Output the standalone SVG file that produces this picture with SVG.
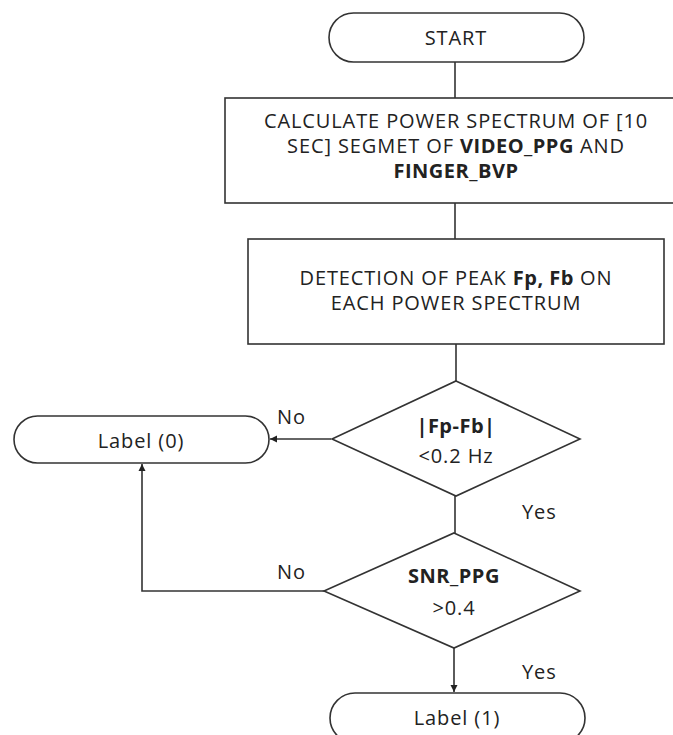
<svg xmlns="http://www.w3.org/2000/svg" width="673" height="735" viewBox="0 0 673 735">
<style>
.s{fill:#fff;stroke:#333;stroke-width:1.6}
.c{fill:none;stroke:#333;stroke-width:1.6}
text{font-family:"Open Sans","Noto Sans",sans-serif;font-size:20px;letter-spacing:0.9px;fill:#222;text-anchor:middle}
.b{font-weight:bold;letter-spacing:0.5px}
.l{text-anchor:start}
</style>
<defs>
<marker id="ah" markerWidth="8" markerHeight="8" refX="7" refY="4" orient="auto" markerUnits="userSpaceOnUse">
<path d="M0,0.5 L7,4 L0,7.5 Z" fill="#222"/>
</marker>
</defs>
<rect width="673" height="735" fill="#fff"/>
<g id="connectors">
<line class="c" x1="455" y1="62" x2="455" y2="98"/>
<line class="c" x1="455" y1="203" x2="455" y2="239"/>
<line class="c" x1="456" y1="344" x2="456" y2="381"/>
<line class="c" x1="455" y1="496" x2="455" y2="533"/>
<line class="c" x1="331" y1="439" x2="270" y2="439" marker-end="url(#ah)"/>
<polyline class="c" points="324,591 142,591 142,464" marker-end="url(#ah)"/>
<line class="c" x1="454" y1="648" x2="454" y2="692" marker-end="url(#ah)"/>
<text class="l" x="277" y="424">No</text>
<text class="l" x="277" y="579">No</text>
<text class="l" x="522" y="519">Yes</text>
<text class="l" x="522" y="679">Yes</text>
</g>
<g id="start">
<rect class="s" x="329" y="13" width="255" height="49" rx="24.5"/>
<text x="456" y="45">START</text>
</g>
<g id="calc">
<rect class="s" x="225" y="98" width="461" height="105"/>
<text x="456" y="128">CALCULATE POWER SPECTRUM OF [10</text>
<text x="456" y="153">SEC] SEGMET OF <tspan class="b">VIDEO_PPG</tspan> AND</text>
<text x="456" y="178" class="b">FINGER_BVP</text>
</g>
<g id="detect">
<rect class="s" x="248" y="239" width="416" height="105"/>
<text x="456" y="285">DETECTION OF PEAK <tspan class="b">Fp, Fb</tspan> ON</text>
<text x="456" y="310">EACH POWER SPECTRUM</text>
</g>
<g id="dec1">
<polygon class="s" points="456,381 580,439 456,496 332,439"/>
<text x="456" y="433" class="b">|Fp-Fb|</text>
<text x="456" y="463">&lt;0.2 Hz</text>
</g>
<g id="dec2">
<polygon class="s" points="454,533 580,591 454,648 324,591"/>
<text x="454" y="583" class="b">SNR_PPG</text>
<text x="454" y="615">&gt;0.4</text>
</g>
<g id="label0">
<rect class="s" x="14" y="416" width="255" height="47" rx="23.5"/>
<text x="141" y="448">Label (0)</text>
</g>
<g id="label1">
<rect class="s" x="330" y="693" width="255" height="50" rx="25"/>
<text x="457" y="725">Label (1)</text>
</g>
</svg>
